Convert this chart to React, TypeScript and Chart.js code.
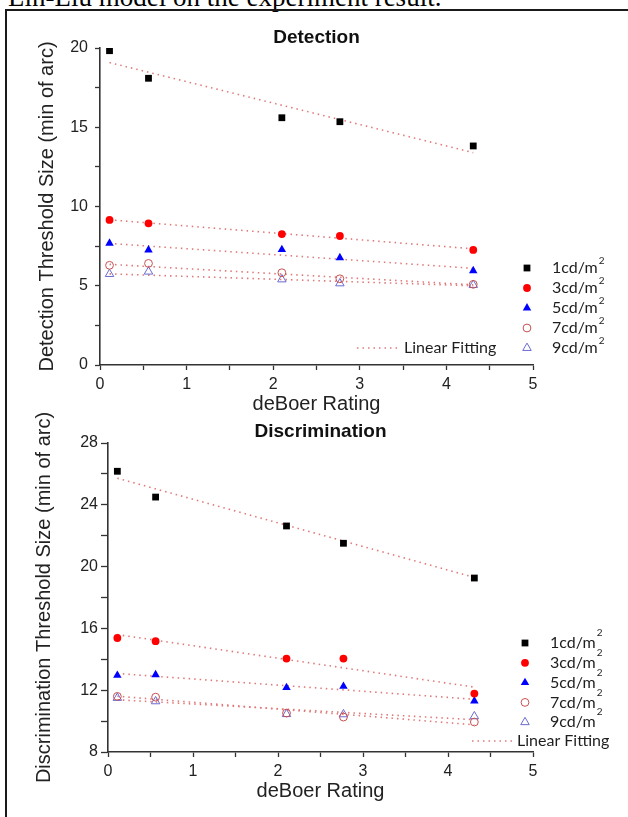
import React, { useEffect, useRef } from 'react';
import { Chart, registerables } from 'chart.js';

Chart.register(...registerables);

// ---------- data ----------
const deBoerRatings = [0.11, 0.56, 2.1, 2.77, 4.31];
const fitRange = [0.11, 4.31];
const seriesLabels = ['1cd/m²', '3cd/m²', '5cd/m²', '7cd/m²', '9cd/m²'];
const fitLabel = 'Linear Fitting';
const xTickLabels = [0, 1, 2, 3, 4, 5];

// Detection threshold size (min of arc)
const detection1 = [19.83, 18.09, 15.6, 15.35, 13.82];
const detection3 = [9.15, 8.94, 8.26, 8.14, 7.26];
const detection5 = [7.68, 7.26, 7.28, 6.77, 5.95];
const detection7 = [6.29, 6.41, 5.82, 5.44, 5.09];
const detection9 = [5.74, 5.89, 5.4, 5.15, 5.05];
const detectionFit1 = [19.08, 13.4];
const detectionFit3 = [9.16, 7.33];
const detectionFit5 = [7.67, 6.1];
const detectionFit7 = [6.35, 5.06];
const detectionFit9 = [5.75, 5.0];
const detectionYTicks = [0, 5, 10, 15, 20];

// Discrimination threshold size (min of arc)
const discrimination1 = [26.17, 24.5, 22.63, 21.51, 19.26];
const discrimination3 = [15.38, 15.17, 14.05, 14.05, 11.78];
const discrimination5 = [12.96, 13.0, 12.17, 12.25, 11.3];
const discrimination7 = [11.6, 11.55, 10.52, 10.26, 9.94];
const discrimination9 = [11.5, 11.28, 10.45, 10.44, 10.31];
const discriminationFit1 = [25.72, 19.3];
const discriminationFit3 = [15.6, 12.2];
const discriminationFit5 = [13.08, 11.41];
const discriminationFit7 = [11.61, 9.76];
const discriminationFit9 = [11.38, 10.09];
const discriminationYTicks = [8, 12, 16, 20, 24, 28];

// ---------- styles ----------
const FIT_COLOR = '#e07a7a';
const markerStyles = [
  { pointStyle: 'rect', pointRadius: 4.8, backgroundColor: '#000000', borderColor: '#000000', borderWidth: 0 },
  { pointStyle: 'circle', pointRadius: 3.9, backgroundColor: '#ff0000', borderColor: '#ff0000', borderWidth: 0 },
  { pointStyle: 'triangle', pointRadius: 4.9, backgroundColor: '#0000ff', borderColor: '#0000ff', borderWidth: 0 },
  { pointStyle: 'circle', pointRadius: 3.9, backgroundColor: 'rgba(0,0,0,0)', borderColor: '#c65050', borderWidth: 1 },
  { pointStyle: 'triangle', pointRadius: 4.9, backgroundColor: 'rgba(0,0,0,0)', borderColor: '#6b6bd0', borderWidth: 1 },
];

Chart.defaults.font.family = "'Liberation Sans', Arial, sans-serif";

function drawMarker(ctx: CanvasRenderingContext2D, s: any, x: number, y: number) {
  const r = s.pointRadius;
  ctx.beginPath();
  if (s.pointStyle === 'rect') {
    const h = Math.SQRT1_2 * r;
    ctx.rect(x - h, y - h, 2 * h, 2 * h);
  } else if (s.pointStyle === 'circle') {
    ctx.arc(x, y, r, 0, Math.PI * 2);
  } else {
    let a = 0;
    ctx.moveTo(x + Math.sin(a) * r, y - Math.cos(a) * r);
    a += (2 * Math.PI) / 3;
    ctx.lineTo(x + Math.sin(a) * r, y - Math.cos(a) * r);
    a += (2 * Math.PI) / 3;
    ctx.lineTo(x + Math.sin(a) * r, y - Math.cos(a) * r);
    ctx.closePath();
  }
  ctx.fillStyle = s.backgroundColor;
  ctx.fill();
  if (s.borderWidth > 0) {
    ctx.lineWidth = s.borderWidth;
    ctx.strokeStyle = s.borderColor;
    ctx.stroke();
  }
}

const sideLegend = {
  id: 'sideLegend',
  afterDraw(chart: any, _args: any, opts: any) {
    const { ctx } = chart;
    const ds = chart.data.datasets;
    ctx.save();
    const points = ds.filter((d: any) => !d.showLine);
    points.forEach((d: any, i: number) => {
      const y = opts.rowTop + i * opts.rowStep;
      drawMarker(ctx, d, opts.markerX, y);
      ctx.font = opts.font;
      ctx.fillStyle = '#1e1e1e';
      ctx.textBaseline = 'middle';
      ctx.textAlign = 'left';
      const base = d.label.replace('²', '');
      ctx.fillText(base, opts.textX, y);
      const w = ctx.measureText(base).width;
      ctx.font = opts.supFont;
      ctx.fillText('2', opts.textX + w + 1, y + opts.supDy);
    });
    const fit = ds.find((d: any) => d.showLine);
    if (fit) {
      ctx.strokeStyle = fit.borderColor;
      ctx.lineWidth = fit.borderWidth;
      ctx.setLineDash(fit.borderDash);
      ctx.beginPath();
      ctx.moveTo(opts.fitX0, opts.fitY);
      ctx.lineTo(opts.fitX1, opts.fitY);
      ctx.stroke();
      ctx.setLineDash([]);
      ctx.font = opts.font;
      ctx.fillStyle = '#1e1e1e';
      ctx.textBaseline = 'middle';
      ctx.textAlign = 'left';
      ctx.fillText(fit.label, opts.fitX1 + 4, opts.fitY);
    }
    ctx.restore();
  },
};

function buildConfig(p: any) {
  const pointSets = p.series.map((vals: number[], i: number) => ({
    label: seriesLabels[i],
    data: deBoerRatings.map((x, j) => ({ x, y: vals[j] })),
    showLine: false,
    ...markerStyles[i],
  }));
  const fitSets = p.fits.map((vals: number[]) => ({
    label: fitLabel,
    data: fitRange.map((x, j) => ({ x, y: vals[j] })),
    showLine: true,
    pointRadius: 0,
    borderColor: FIT_COLOR,
    borderWidth: 1.6,
    borderDash: [1.5, 4],
    fill: false,
  }));
  return {
    type: 'scatter',
    data: { datasets: [...pointSets, ...fitSets] },
    plugins: [sideLegend],
    options: {
      responsive: false,
      animation: false,
      events: [],
      layout: { padding: { left: 0, right: 95, top: 0, bottom: 0 } },
      plugins: {
        legend: { display: false },
        tooltip: { enabled: false },
        title: {
          display: true,
          text: p.title,
          fullSize: false,
          color: '#111',
          font: { size: 19, weight: 'bold', lineHeight: 1 },
          padding: p.titlePadding,
        },
        sideLegend: p.legend,
      },
      scales: {
        x: {
          type: 'linear',
          min: 0,
          max: 5,
          afterFit: (s: any) => { s.height = p.xAxisHeight; },
          ticks: {
            stepSize: 0.5,
            autoSkip: false,
            maxRotation: 0,
            padding: 5,
            color: '#222',
            font: { size: 16 },
            callback: (v: number) => (xTickLabels.includes(v) ? String(v) : ''),
          },
          grid: { drawOnChartArea: false, drawTicks: true, tickLength: 5, tickColor: '#333', tickWidth: 1.3 },
          border: { display: true, color: '#333', width: 1.6 },
          title: {
            display: true,
            text: 'deBoer Rating',
            color: '#222',
            font: { size: 20, lineHeight: 1 },
            padding: { top: 0, bottom: p.xTitleBottom },
          },
        },
        y: {
          type: 'linear',
          min: p.yMin,
          max: p.yMax,
          afterFit: (s: any) => { s.width = p.yAxisWidth; },
          ticks: {
            stepSize: p.yStep,
            autoSkip: false,
            padding: p.yTickPadding,
            color: '#222',
            font: { size: 16 },
            callback: (v: number) => (p.yTicks.includes(v) ? String(v) : ''),
          },
          grid: { drawOnChartArea: false, drawTicks: true, tickLength: p.yTickLength, tickColor: '#333', tickWidth: 1.3 },
          border: { display: true, color: '#333', width: 1.6 },
          title: {
            display: true,
            text: p.yTitle,
            color: '#222',
            font: { size: 20, lineHeight: 1 },
            padding: { top: p.yTitleTop, bottom: 0 },
          },
        },
      },
    },
  };
}

const detectionConfig = () =>
  buildConfig({
    title: 'Detection',
    titlePadding: { top: 28.5, bottom: 0.5 },
    series: [detection1, detection3, detection5, detection7, detection9],
    fits: [detectionFit1, detectionFit3, detectionFit5, detectionFit7, detectionFit9],
    yMin: 0,
    yMax: 20,
    yStep: 2.5,
    yTicks: detectionYTicks,
    yTitle: 'Detection Threshold Size (min of arc)',
    yAxisWidth: 100,
    yTitleTop: 37.5,
    yTickLength: 5,
    yTickPadding: 7,
    xAxisHeight: 50,
    xTitleBottom: 1,
    legend: {
      markerX: 527, textX: 552, rowTop: 268, rowStep: 20,
      font: "16px Lato, 'Open Sans', sans-serif", supFont: "10px Lato, sans-serif", supDy: -7,
      fitX0: 357, fitX1: 400, fitY: 348,
    },
  });

// bottom canvas starts at page y = 395
const discriminationConfig = () =>
  buildConfig({
    title: 'Discrimination',
    titlePadding: { top: 27.5, bottom: 1.5 },
    series: [discrimination1, discrimination3, discrimination5, discrimination7, discrimination9],
    fits: [discriminationFit1, discriminationFit3, discriminationFit5, discriminationFit7, discriminationFit9],
    yMin: 8,
    yMax: 28,
    yStep: 2,
    yTicks: discriminationYTicks,
    yTitle: 'Discrimination Threshold Size (min of arc)',
    yAxisWidth: 108,
    yTitleTop: 34.5,
    yTickLength: 7,
    yTickPadding: 3,
    xAxisHeight: 65,
    xTitleBottom: 16,
    legend: {
      markerX: 525, textX: 550, rowTop: 248, rowStep: 19.8,
      font: "16px Lato, 'Open Sans', sans-serif", supFont: "10px Lato, sans-serif", supDy: -10,
      fitX0: 472, fitX1: 513, fitY: 346,
    },
  });

function ChartCanvas({ makeConfig, top, height }: { makeConfig: () => any; top: number; height: number }) {
  const ref = useRef<HTMLCanvasElement>(null);
  useEffect(() => {
    const chart = new Chart(ref.current as HTMLCanvasElement, makeConfig());
    return () => chart.destroy();
  }, []);
  return (
    <canvas
      ref={ref}
      width={628}
      height={height}
      style={{ position: 'absolute', left: 0, top, width: 628, height, display: 'block' }}
    />
  );
}

export default function App() {
  return (
    <div style={{ position: 'fixed', left: 0, top: 0, width: 628, height: 817, overflow: 'hidden', background: '#fff' }}>
      <div
        style={{
          position: 'absolute',
          left: 8,
          top: -16,
          fontFamily: "'Liberation Serif', 'Times New Roman', serif",
          fontSize: 27,
          lineHeight: '27px',
          whiteSpace: 'nowrap',
          color: '#000',
        }}
      >
        Lin-Liu model on the experiment result.
      </div>
      <div
        style={{
          position: 'absolute',
          left: 5,
          top: 9,
          width: 900,
          height: 1000,
          borderTop: '2px solid #1a1a1a',
          borderLeft: '2px solid #1a1a1a',
        }}
      />
      <ChartCanvas makeConfig={detectionConfig} top={0} height={415} />
      <ChartCanvas makeConfig={discriminationConfig} top={395} height={422} />
    </div>
  );
}
